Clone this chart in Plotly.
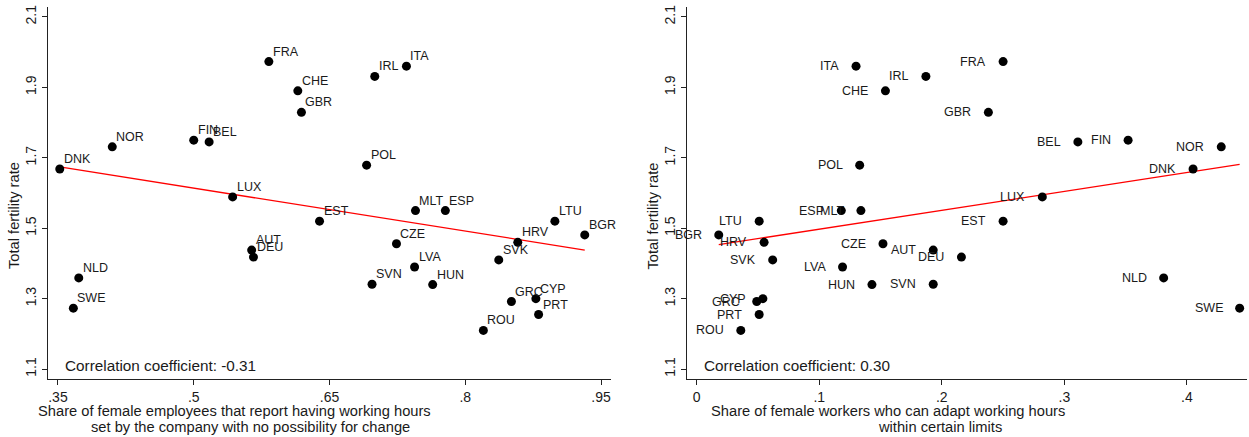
import numpy as np
import plotly.graph_objects as go

countries = ["DNK", "NOR", "FIN", "BEL", "FRA", "CHE", "GBR", "LUX", "IRL", "ITA",
             "POL", "MLT", "ESP", "EST", "LTU", "BGR", "HRV", "CZE", "SVK", "LVA",
             "SVN", "HUN", "GRC", "CYP", "PRT", "ROU", "AUT", "DEU", "NLD", "SWE"]
tfr = [1.668, 1.731, 1.750, 1.745, 1.973, 1.890, 1.829, 1.589, 1.931, 1.960,
       1.679, 1.550, 1.550, 1.520, 1.520, 1.481, 1.460, 1.456, 1.410, 1.390,
       1.341, 1.340, 1.292, 1.300, 1.255, 1.210, 1.438, 1.418, 1.359, 1.273]
fixed_hours = [0.352, 0.410, 0.500, 0.517, 0.583, 0.615, 0.619, 0.543, 0.700, 0.735,
               0.691, 0.745, 0.778, 0.639, 0.899, 0.932, 0.858, 0.724, 0.837, 0.744,
               0.697, 0.764, 0.851, 0.878, 0.881, 0.820, 0.564, 0.566, 0.373, 0.367]
adapt_hours = [0.405, 0.428, 0.352, 0.311, 0.250, 0.154, 0.238, 0.282, 0.187, 0.130,
               0.133, 0.134, 0.118, 0.250, 0.051, 0.018, 0.055, 0.152, 0.062, 0.119,
               0.193, 0.143, 0.049, 0.054, 0.051, 0.036, 0.193, 0.216, 0.381, 0.443]

left_xticks = [0.35, 0.5, 0.65, 0.8, 0.95]
left_xticklabels = [".35", ".5", ".65", ".8", ".95"]
right_xticks = [0, 0.1, 0.2, 0.3, 0.4]
right_xticklabels = ["0", ".1", ".2", ".3", ".4"]
yticks = [1.1, 1.3, 1.5, 1.7, 1.9, 2.1]
yticklabels = ["1.1", "1.3", "1.5", "1.7", "1.9", "2.1"]

corr_left = "Correlation coefficient: -0.31"
corr_right = "Correlation coefficient: 0.30"
xtitle_left = ["Share of female employees that report having working hours",
               "set by the company with no possibility for change"]
xtitle_right = ["Share of female workers who can adapt working hours",
                "within certain limits"]
ytitle = "Total fertility rate"

FONT = "Liberation Sans, Arial, sans-serif"
TXT = "#1a1a1a"
W, H = 1249, 437

def px(x):
    return x / W

def py(y):
    return (H - y) / H

fig = go.Figure()

def add_panel(xv, xa, ya):
    xv = np.array(xv)
    yv = np.array(tfr)
    b, a = np.polyfit(xv, yv, 1)
    xs = np.array([xv.min(), xv.max()])
    fig.add_trace(go.Scatter(x=xs, y=a + b * xs, mode="lines",
                             line=dict(color="#ff0000", width=1.3),
                             xaxis=xa, yaxis=ya, showlegend=False, hoverinfo="skip"))
    fig.add_trace(go.Scatter(x=xv, y=yv, mode="markers",
                             marker=dict(color="black", size=9),
                             xaxis=xa, yaxis=ya, showlegend=False, text=countries))

add_panel(fixed_hours, "x", "y")
add_panel(adapt_hours, "x2", "y2")

annotations = []
for c, xv, yv in zip(countries, fixed_hours, tfr):
    annotations.append(dict(x=xv, y=yv, xref="x", yref="y", text=c, showarrow=False,
                            xanchor="left", yanchor="middle", xshift=2, yshift=10,
                            font=dict(family=FONT, size=12.5, color=TXT)))
for c, xv, yv in zip(countries, adapt_hours, tfr):
    annotations.append(dict(x=xv, y=yv, xref="x2", yref="y2", text=c, showarrow=False,
                            xanchor="right", yanchor="middle", xshift=-15, yshift=0,
                            font=dict(family=FONT, size=12.5, color=TXT)))
annotations.append(dict(x=0.3555, y=1.111, xref="x", yref="y", text=corr_left, showarrow=False,
                        xanchor="left", yanchor="middle",
                        font=dict(family=FONT, size=15.3, color=TXT)))
annotations.append(dict(x=0.004, y=1.111, xref="x2", yref="y2", text=corr_right, showarrow=False,
                        xanchor="left", yanchor="middle",
                        font=dict(family=FONT, size=15.3, color=TXT)))

# axis titles
title_font = dict(family=FONT, size=14.7, color=TXT)
for (line, cx, cy) in [(xtitle_left[0], 234, 411), (xtitle_left[1], 250, 427),
                       (xtitle_right[0], 888, 411), (xtitle_right[1], 940, 427)]:
    annotations.append(dict(x=px(cx), y=py(cy), xref="paper", yref="paper", text=line,
                            showarrow=False, xanchor="center", yanchor="middle",
                            font=title_font))
for cx in [14, 652.5]:
    annotations.append(dict(x=px(cx), y=py(216), xref="paper", yref="paper", text=ytitle,
                            showarrow=False, xanchor="center", yanchor="middle",
                            textangle=-90, font=title_font))

axis_common = dict(showgrid=False, zeroline=False, showline=True, linecolor="#222",
                   linewidth=1.2, ticks="outside", ticklen=5, tickcolor="#222",
                   tickfont=dict(family=FONT, size=14, color=TXT), automargin=False)

fig.update_layout(
    width=W, height=H,
    margin=dict(l=0, r=0, t=0, b=0),
    plot_bgcolor="white", paper_bgcolor="white",
    annotations=annotations,
    xaxis=dict(domain=[px(48), px(611)], range=[0.339, 0.961], tickvals=left_xticks,
               ticktext=left_xticklabels, anchor="y", **axis_common),
    yaxis=dict(domain=[py(379), py(7)], range=[1.072, 2.128], tickvals=yticks,
               ticktext=yticklabels, tickangle=-90, anchor="x", **axis_common),
    xaxis2=dict(domain=[px(687), px(1247)], range=[-0.0079, 0.449], tickvals=right_xticks,
                ticktext=right_xticklabels, anchor="y2", **axis_common),
    yaxis2=dict(domain=[py(379), py(7)], range=[1.072, 2.128], tickvals=yticks,
                ticktext=yticklabels, tickangle=-90, anchor="x2", **axis_common),
)

fig.write_html("out.html")
